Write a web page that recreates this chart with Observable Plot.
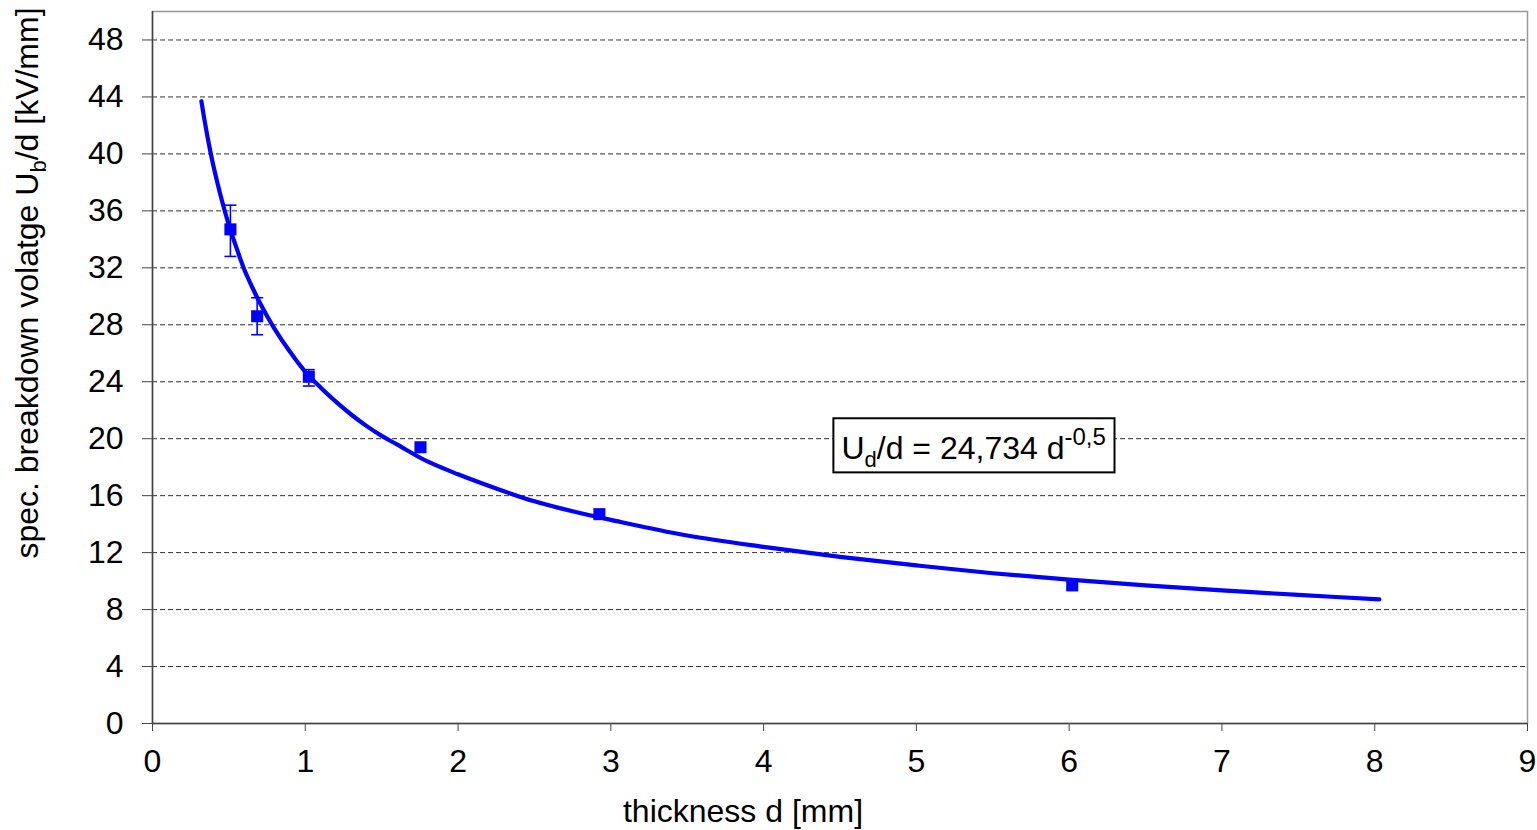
<!DOCTYPE html>
<html>
<head>
<meta charset="utf-8">
<script src="https://cdn.jsdelivr.net/npm/d3@7"></script>
<script src="https://cdn.jsdelivr.net/npm/@observablehq/plot@0.6"></script>
<style>
  html, body { margin: 0; padding: 0; background: #fff; }
  svg { display: block; }
</style>
</head>
<body>
<div id="chart"></div>
<script>
// Measured points
const thickness = [0.51, 0.685, 1.023, 1.754, 2.925, 6.02];
const field = [34.7, 28.6, 24.35, 19.4, 14.7, 9.7];
// Error bars (only visible for first three)
const errThickness = [0.51, 0.685, 1.023];
const errLow = [32.8, 27.3, 23.7];
const errHigh = [36.4, 29.9, 24.85];
// Fit curve
const curveD = [0.32, 0.34, 0.36, 0.38, 0.4, 0.45, 0.5, 0.55, 0.6, 0.65, 0.7, 0.8, 0.9, 1.0, 1.1, 1.2, 1.3, 1.4, 1.5, 1.6, 1.8, 2.0, 2.25, 2.5, 2.75, 3.0, 3.5, 4.0, 4.5, 5.0, 5.5, 6.0, 6.5, 7.0, 7.5, 8.03];
const curveU = [43.7, 42.4, 41.2, 40.1, 39.1, 36.9, 35.0, 33.4, 31.9, 30.7, 29.6, 27.7, 26.1, 24.7, 23.6, 22.6, 21.7, 20.9, 20.2, 19.6, 18.4, 17.5, 16.5, 15.6, 14.9, 14.3, 13.2, 12.4, 11.7, 11.1, 10.55, 10.1, 9.7, 9.35, 9.03, 8.72];
// Ticks
const xTicks = [0, 1, 2, 3, 4, 5, 6, 7, 8, 9];
const yTicks = [0, 4, 8, 12, 16, 20, 24, 28, 32, 36, 40, 44, 48];

const points = thickness.map((d, i) => ({d, u: field[i]}));
const errs = errThickness.map((d, i) => ({d, lo: errLow[i], hi: errHigh[i]}));
const curve = curveD.map((d, i) => ({d, u: curveU[i]}));
const caps = errs.flatMap(e => [{d: e.d, u: e.lo}, {d: e.d, u: e.hi}]);

const blue = "#0000ff";
const font = "'Liberation Sans', Arial, sans-serif";
const fs = 32;
const capSymbol = {
  draw(ctx, size) {
    const r = Math.sqrt(size / Math.PI);
    ctx.moveTo(-r, 0);
    ctx.lineTo(r, 0);
  }
};

const plot = Plot.plot({
  width: 1537,
  height: 830,
  marginLeft: 152,
  marginRight: 10,
  marginTop: 11,
  marginBottom: 107,
  style: {fontFamily: font, fontSize: fs + "px", color: "#000", background: "#fff"},
  x: {domain: [0, 9]},
  y: {domain: [0, 50]},
  marks: [
    Plot.gridY(yTicks.filter(t => t > 0), {stroke: "#333", strokeOpacity: 1, strokeDasharray: "5,3", strokeWidth: 1}),
    Plot.frame({stroke: "#999", strokeWidth: 1.5}),
    Plot.axisY(yTicks, {tickSize: 10, tickPadding: 19, fontSize: fs, stroke: "#444", label: null, tickFormat: d => String(d)}),
    Plot.axisX(xTicks, {tickSize: 8, tickPadding: 18, fontSize: fs, stroke: "#444", label: null, tickFormat: d => String(d)}),
    Plot.ruleX([0], {stroke: "#444", strokeWidth: 1.5}),
    Plot.ruleY([0], {stroke: "#444", strokeWidth: 1.5}),
    Plot.ruleX(errs, {x: "d", y1: "lo", y2: "hi", stroke: blue, strokeWidth: 1.6}),
    Plot.dot(caps, {x: "d", y: "u", r: 6, symbol: capSymbol, stroke: blue, strokeWidth: 1.6, fill: "none"}),
    Plot.line(curve, {x: "d", y: "u", stroke: blue, strokeWidth: 4.2, curve: "catmull-rom"}),
    Plot.dot(points, {x: "d", y: "u", r: 6.8, symbol: "square", fill: blue, stroke: "none"})
  ]
});

const svg = d3.select(plot);
const sx = plot.scale("x"), sy = plot.scale("y");

// Axis labels
svg.append("text")
  .attr("x", 743)
  .attr("y", 822)
  .attr("text-anchor", "middle")
  .attr("font-family", font).attr("font-size", fs).attr("fill", "#000")
  .text("thickness d [mm]");

const yl = svg.append("text")
  .attr("transform", `translate(38, 283) rotate(-90)`)
  .attr("text-anchor", "middle")
  .attr("font-family", font).attr("font-size", fs).attr("fill", "#000");
yl.append("tspan").text("spec. breakdown volatge U");
yl.append("tspan").attr("font-size", 22).attr("dy", 8).text("b");
yl.append("tspan").attr("dy", -8).text("/d [kV/mm]");

// Equation box
const bx1 = sx.apply(4.46), bx2 = sx.apply(6.30);
const by1 = sy.apply(21.4), by2 = sy.apply(17.6);
svg.append("rect")
  .attr("x", bx1).attr("y", by1)
  .attr("width", bx2 - bx1).attr("height", by2 - by1)
  .attr("fill", "#fff").attr("stroke", "#000").attr("stroke-width", 2);
const eq = svg.append("text")
  .attr("x", bx1 + 8).attr("y", by1 + 41)
  .attr("text-anchor", "start")
  .attr("font-family", font).attr("font-size", fs).attr("fill", "#000");
eq.append("tspan").text("U");
eq.append("tspan").attr("font-size", 22).attr("dy", 8).text("d");
eq.append("tspan").attr("dy", -8).text("/d = 24,734 d");
eq.append("tspan").attr("font-size", 24).attr("dy", -14).text("-0,5");

document.getElementById("chart").appendChild(plot);
</script>
</body>
</html>
